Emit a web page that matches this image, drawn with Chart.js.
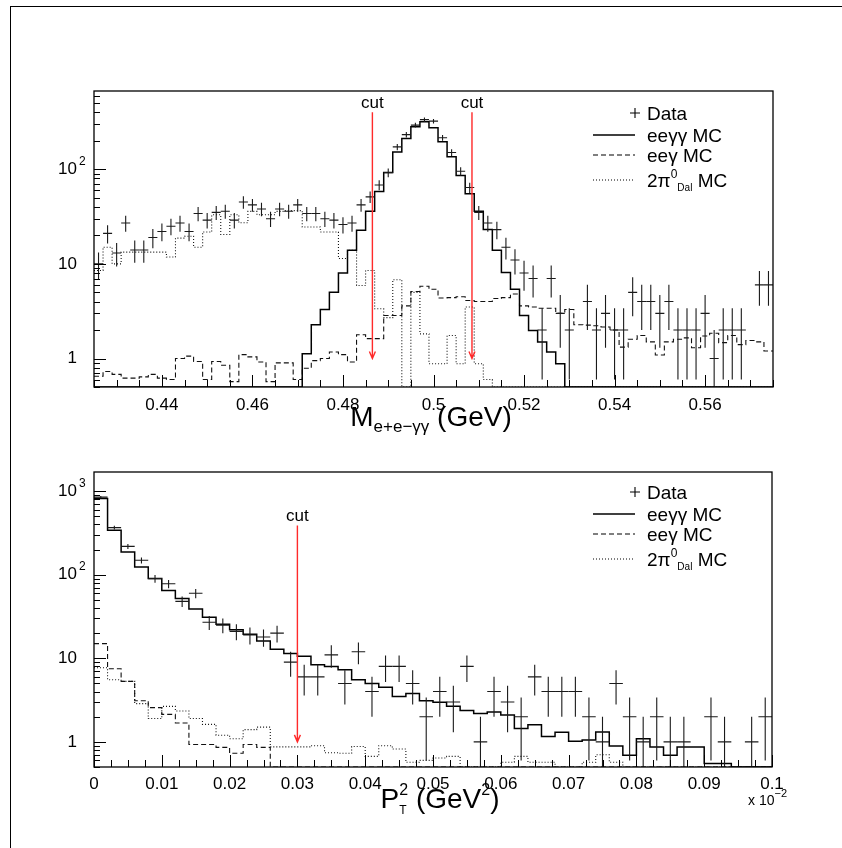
<!DOCTYPE html>
<html lang="en">
<head>
<meta charset="UTF-8">
<title>K_L -> e+e-gamma gamma</title>
<script src="https://cdn.jsdelivr.net/npm/chart.js@4.4.1/dist/chart.umd.min.js"></script>
<style>
  html, body { margin:0; padding:0; background:#fff; }
  body { width:842px; height:848px; position:relative; overflow:hidden; }
  #frame { position:absolute; left:10px; top:6px; width:840px; height:850px;
           border-left:1.5px solid #000; border-top:1.5px solid #000; }
  canvas { position:absolute; left:0; }
  #massChart { top:0; }
  #ptChart { top:440px; }
</style>
</head>
<body>
<div id="frame"></div>
<canvas id="massChart" width="842" height="440"></canvas>
<canvas id="ptChart" width="842" height="408"></canvas>
<script>
// ---- top panel: M(e+e-gg), 2 MeV bins from 0.425 to 0.575 GeV
const massRange = [0.425, 0.575];
const massBin = 0.002;
const massYRange = [0.5, 670];
const massData = [10,21,13,27,14,14,19,22,25,27, 22,34,29,35,36,29,45,42,38,30,
  38,36,42,34,34,30,29,26,27,42, 51,68,92,172,232,292,334,322,215,150,
  95,64,35,27,23,15,11,8,7,2, 7,3,2,0,4,2,3,2,2,5,
  4,4,3,4,2,2,2,3,1,2, 2,2,0,6,6];
const massDataErr = [3.2,4.6,3.6,5.2,3.7,3.7,4.4,4.7,5.0,5.2, 4.7,5.8,5.4,5.9,6.0,5.4,6.7,6.5,6.2,5.5,
  6.2,6.0,6.5,5.8,5.8,5.5,5.4,5.1,5.2,6.5, 7.1,8.2,9.6,13.1,15.2,17.1,18.3,17.9,14.7,12.2,
  9.7,8.0,5.9,5.2,4.8,3.9,3.3,2.8,2.6,1.4, 2.6,1.7,1.4,0,2.0,1.4,1.7,1.4,1.4,2.2,
  2.0,2.0,1.7,2.0,1.4,1.4,1.4,1.7,1.0,1.4, 1.4,1.4,0,2.4,2.4];
const massEeggMC = [0,0,0,0,0,0,0,0,0,0, 0,0,0,0,0,0,0,0,0,0,
  0,0,0,1.12,2.27,3.3,5.0,8.0,13.9,22.6, 36,58,92,152,211,280,317,274,195,135,
  86,55,36,23,13.9,8.1,5.4,2.85,1.98,1.49, 1.17,0.88,0,0,0,0,0,0,0,0,
  0,0,0,0,0,0,0,0,0,0, 0,0,0,0,0];
const massEegMC = [0.65,0.73,0.68,0.62,0.62,0.64,0.68,0.62,0.6,1.0, 1.06,0.93,0.6,0.93,0.85,0.57,1.1,1.04,0.92,0.57,
  0.9,0.9,0.6,0.79,0.95,1.0,1.17,1.1,0.92,1.78, 1.62,1.62,2.85,2.85,3.6,5.1,5.8,5.4,4.35,4.4,
  4.5,4.1,4.0,4.0,4.3,4.4,4.8,3.6,3.5,3.4, 3.4,3.0,3.3,2.27,2.25,2.22,2.15,2.0,1.32,1.6,
  1.75,1.5,1.09,1.5,1.6,1.65,1.3,1.73,1.85,1.47, 1.75,1.4,1.55,1.5,1.2];
const massDalitzMC = [8.5,15,10,13.3,13.3,13.3,13.3,13.3,11.8,18.7, 19.6,15,21.7,33,20.4,33,27.2,35.8,33,33,
  35.8,36.5,36.5,24.5,24.5,21.7,21.7,11.4,13.9,5.9, 8.5,3.35,2.7,6.8,0,5.0,1.82,0.88,0.88,1.75,
  0.88,3.5,0.88,0.6,0,0,0,0,0,0, 0,0,0,0,0,0,0,0,0,0,
  0,0,0,0,0,0,0,0,0,0, 0,0,0,0,0];
const massTickLabels = [0.44, 0.46, 0.48, 0.5, 0.52, 0.54, 0.56];
const massCuts = [0.4865, 0.5085];

// ---- bottom panel: PT^2 in units of 1e-2 GeV^2
const ptRange = [0, 0.1];
const ptBin = 0.002;
const ptYRange = [0.5, 1700];
const ptData = [850,367,219,149,90,78,48,60,27,25, 21,19,18,20,9,6,6,11,5,12,
  4,8,8,5,2,4,3,8,1,4, 3,2,6,4,4,4,2,1,5,2, 1,2,1,1,0,2,1,0,1,2];
const ptDataErr = [29,19,14.8,12.2,9.5,8.8,6.9,7.7,5.2,5.0, 4.6,4.4,4.2,4.5,3.0,2.4,2.4,3.3,2.2,3.5,
  2.0,2.8,2.8,2.2,1.4,2.0,1.7,2.8,1.0,2.0, 1.7,1.4,2.4,2.0,2.0,2.0,1.4,1.0,2.2,1.4,
  1.0,1.4,1.0,1.0,0,1.4,1.0,0,1.0,1.4];
const ptEeggMC = [817,341,188,124,90,65,52,39,31,25.5, 22,19.4,16.1,12.8,11.4,10.6,8.4,8.0,7.3,5.55,
  5.0,4.5,3.5,3.8,3.1,2.97,2.66,2.38,2.18,2.28, 2.1,1.44,1.6,1.16,1.3,1.02,1.05,1.31,0.89,0.69,
  1.09,0.87,0.69,0.87,0.87,0.55,0.55,0,0,0];
const ptEegMC = [15,7.5,5.3,3.1,2.57,2.13,1.68,0.93,0.93,0.86, 0.73,0.93,0.86,0,0,0,0,0,0,0,
  0,0,0,0,0,0,0,0,0,0, 0,0,0,0,0,0,0,0,0,0, 0,0,0,0,0,0,0,0,0,0];
const ptDalitzMC = [7.7,5.55,5.3,2.87,1.9,2.66,2.34,1.9,1.62,1.2, 1.09,1.4,1.5,0.87,0.87,0.87,0.9,0.74,0.73,0.88,
  0.67,0.9,0.82,0.57,0.6,0.64,0.67,0,0,0, 0.57,0.67,0.57,0.57,0,0,0.57,0.7,0.57,0,
  0,0,0,0,0,0,0,0,0,0];
const ptTickLabels = [0, 0.01, 0.02, 0.03, 0.04, 0.05, 0.06, 0.07, 0.08, 0.09, 0.1];
const ptCuts = [0.03];

const FONT = '"Liberation Sans", Arial, Helvetica, sans-serif';

// histogram outline: edge, bin centres, edge -> drawn with stepped 'middle'
function histSeries(lo, bw, values, floor) {
  const pts = [{ x: lo, y: values[0] > 0 ? values[0] : floor }];
  values.forEach((v, i) => pts.push({ x: lo + (i + 0.5) * bw, y: v > 0 ? v : floor }));
  const last = values[values.length - 1];
  pts.push({ x: lo + values.length * bw, y: last > 0 ? last : floor });
  return pts;
}

function drawRich(ctx, parts, x, y, align) {
  let w = 0;
  for (const p of parts) { ctx.font = p.s + 'px ' + FONT; w += p.stack ? 0 : ctx.measureText(p.t).width; }
  let cx = align === 'center' ? x - w / 2 : (align === 'right' ? x - w : x);
  ctx.textAlign = 'left';
  ctx.textBaseline = 'alphabetic';
  for (const p of parts) {
    ctx.font = p.s + 'px ' + FONT;
    ctx.fillText(p.t, cx, y + (p.dy || 0));
    if (!p.stack) cx += ctx.measureText(p.t).width;
  }
}

function rootPlugin(cfg) {
  return {
    id: 'rootStyle',
    afterDatasetsDraw(chart) {
      const { ctx, chartArea: a } = chart;
      const xs = chart.scales.x, ys = chart.scales.y;
      const data = chart.data.datasets[0].data;

      ctx.save();
      ctx.beginPath();
      ctx.rect(a.left, a.top, a.right - a.left, a.bottom - a.top);
      ctx.clip();
      // data points with error bars
      ctx.strokeStyle = '#1a1a1a';
      ctx.lineWidth = 1.1;
      data.forEach((p, i) => {
        if (!(p.y > 0)) return;
        const e = cfg.err[i];
        const xc = xs.getPixelForValue(p.x);
        const yc = ys.getPixelForValue(p.y);
        const y1 = ys.getPixelForValue(p.y + e);
        const y2 = p.y - e > 0 ? ys.getPixelForValue(p.y - e) : a.bottom;
        ctx.beginPath();
        ctx.moveTo(xs.getPixelForValue(p.x - cfg.bw / 2), yc);
        ctx.lineTo(xs.getPixelForValue(p.x + cfg.bw / 2), yc);
        ctx.moveTo(xc, y1);
        ctx.lineTo(xc, y2);
        ctx.stroke();
      });
      ctx.restore();

      // cut arrows
      ctx.save();
      ctx.strokeStyle = '#ff2a2a';
      ctx.fillStyle = '#000';
      ctx.lineWidth = 1.4;
      cfg.cuts.forEach(c => {
        const xp = xs.getPixelForValue(c);
        const yt = ys.getPixelForValue(cfg.cutTop);
        const yb = ys.getPixelForValue(1);
        ctx.beginPath();
        ctx.moveTo(xp, yt); ctx.lineTo(xp, yb);
        ctx.moveTo(xp - 3, yb - 7); ctx.lineTo(xp, yb); ctx.lineTo(xp + 3, yb - 7);
        ctx.stroke();
        ctx.font = '17px ' + FONT;
        ctx.textAlign = 'center';
        ctx.textBaseline = 'alphabetic';
        ctx.fillText('cut', xp, yt - 4);
      });
      ctx.restore();

      // frame
      ctx.save();
      ctx.strokeStyle = '#000';
      ctx.lineWidth = 1.3;
      ctx.strokeRect(a.left, a.top, a.right - a.left, a.bottom - a.top);
      ctx.lineWidth = 1;
      ctx.beginPath();
      // log y ticks, inward
      for (let d = 0.1; d <= 1e4; d *= 10) {
        for (let m = 1; m <= 9; m++) {
          const v = m * d;
          if (v < ys.min || v > ys.max) continue;
          const yp = Math.round(ys.getPixelForValue(v)) + 0.5;
          ctx.moveTo(a.left, yp);
          ctx.lineTo(a.left + (m === 1 ? 12 : 6), yp);
        }
      }
      // x ticks, inward
      const nMinor = Math.round((xs.max - xs.min) / cfg.xMinor);
      for (let k = 0; k <= nMinor; k++) {
        const v = xs.min + k * cfg.xMinor;
        const major = cfg.xLabels.some(t => Math.abs(t - v) < cfg.xMinor / 10);
        const xp = Math.round(xs.getPixelForValue(v)) + 0.5;
        ctx.moveTo(xp, a.bottom);
        ctx.lineTo(xp, a.bottom - (major ? 12 : 7));
      }
      ctx.stroke();

      // tick labels
      ctx.fillStyle = '#000';
      ctx.font = '17px ' + FONT;
      ctx.textAlign = 'center';
      ctx.textBaseline = 'middle';
      cfg.xLabels.forEach(t => {
        ctx.fillText(String(t), xs.getPixelForValue(t), a.bottom + cfg.xLabelGap);
      });
      cfg.yLabels.forEach(([v, base, sup]) => {
        const yp = ys.getPixelForValue(v);
        ctx.font = '17px ' + FONT;
        ctx.textAlign = 'right';
        ctx.textBaseline = 'middle';
        ctx.fillText(base, 77, yp);
        if (sup) {
          ctx.font = '12px ' + FONT;
          ctx.textAlign = 'left';
          ctx.fillText(sup, 79, yp - 8);
        }
      });

      // axis title
      ctx.fillStyle = '#000';
      drawRich(ctx, cfg.title, cfg.titlePos[0], cfg.titlePos[1], 'center');
      if (cfg.extra) drawRich(ctx, cfg.extra.parts, cfg.extra.x, cfg.extra.y, 'left');

      // legend
      const L = cfg.legend;
      ctx.strokeStyle = '#000';
      ctx.lineWidth = 1.1;
      ctx.beginPath();
      ctx.moveTo(L.cross - 5, L.rows[0]); ctx.lineTo(L.cross + 5, L.rows[0]);
      ctx.moveTo(L.cross, L.rows[0] - 5); ctx.lineTo(L.cross, L.rows[0] + 5);
      ctx.stroke();
      [[], [5, 3], [1, 2]].forEach((dash, k) => {
        ctx.setLineDash(dash);
        ctx.lineWidth = k === 0 ? 1.5 : 1.1;
        ctx.beginPath();
        ctx.moveTo(L.x0, L.rows[k + 1]); ctx.lineTo(L.x1, L.rows[k + 1]);
        ctx.stroke();
      });
      ctx.setLineDash([]);
      const fs = 19, off = 7;
      drawRich(ctx, [{ t: 'Data', s: fs }], L.tx, L.rows[0] + off, 'left');
      drawRich(ctx, [{ t: 'ee\u03b3\u03b3 MC', s: fs }], L.tx, L.rows[1] + off, 'left');
      drawRich(ctx, [{ t: 'ee\u03b3 MC', s: fs }], L.tx, L.rows[2] + off, 'left');
      drawRich(ctx, [{ t: '2\u03c0', s: fs }, { t: '0', s: 12, dy: -9 }, { t: 'Dal', s: 10, dy: 4 },
        { t: ' MC', s: fs }], L.tx, L.rows[3] + off, 'left');
      ctx.restore();
    }
  };
}

function makeChart(id, p) {
  const floor = p.yRange[0];
  return new Chart(document.getElementById(id), {
    type: 'line',
    data: {
      datasets: [
        { label: 'Data', data: p.data.map((v, i) => ({ x: p.range[0] + (i + 0.5) * p.bw, y: v })),
          showLine: false, pointRadius: 0 },
        { label: 'ee\u03b3\u03b3 MC', data: histSeries(p.range[0], p.bw, p.eegg, floor),
          stepped: 'middle', borderColor: '#000', borderWidth: 1.5, pointRadius: 0, fill: false },
        { label: 'ee\u03b3 MC', data: histSeries(p.range[0], p.bw, p.eeg, floor),
          stepped: 'middle', borderColor: '#111', borderWidth: 1.1, borderDash: [5, 3], pointRadius: 0, fill: false },
        { label: '2\u03c0\u2070 Dal MC', data: histSeries(p.range[0], p.bw, p.dal, floor),
          stepped: 'middle', borderColor: '#111', borderWidth: 1.1, borderDash: [1, 2], pointRadius: 0, fill: false }
      ]
    },
    options: {
      responsive: false,
      animation: false,
      devicePixelRatio: 1,
      layout: { padding: p.padding },
      plugins: { legend: { display: false }, tooltip: { enabled: false } },
      scales: {
        x: { type: 'linear', min: p.range[0], max: p.range[1], display: false },
        y: { type: 'logarithmic', min: p.yRange[0], max: p.yRange[1], display: false }
      }
    },
    plugins: [rootPlugin(p.frame)]
  });
}

makeChart('massChart', {
  range: massRange, bw: massBin, yRange: massYRange,
  data: massData, eegg: massEeggMC, eeg: massEegMC, dal: massDalitzMC,
  padding: { left: 94, right: 69, top: 91, bottom: 53 },
  frame: {
    err: massDataErr, bw: massBin, cuts: massCuts, cutTop: 400,
    xLabels: massTickLabels, xMinor: 0.005, xLabelGap: 18,
    yLabels: [[1, '1'], [10, '10'], [100, '10', '2']],
    title: [{ t: 'M', s: 28 }, { t: 'e+e\u2212\u03b3\u03b3', s: 17, dy: 6 }, { t: ' (GeV)', s: 28 }],
    titlePos: [431, 426],
    legend: { x0: 593, x1: 635, cross: 635, tx: 647, rows: [113, 135, 155, 180] }
  }
});

makeChart('ptChart', {
  range: ptRange, bw: ptBin, yRange: ptYRange,
  data: ptData, eegg: ptEeggMC, eeg: ptEegMC, dal: ptDalitzMC,
  padding: { left: 94, right: 70, top: 32, bottom: 81 },
  frame: {
    err: ptDataErr, bw: ptBin, cuts: ptCuts, cutTop: 390,
    xLabels: ptTickLabels, xMinor: 0.0025, xLabelGap: 17,
    yLabels: [[1, '1'], [10, '10'], [100, '10', '2'], [1000, '10', '3']],
    title: [{ t: 'P', s: 28 }, { t: 'T', s: 12, dy: 6, stack: true }, { t: '2', s: 16, dy: -13 },
      { t: ' (GeV', s: 28 }, { t: '2', s: 16, dy: -13 }, { t: ')', s: 28 }],
    titlePos: [440, 368],
    extra: { x: 748, y: 365, parts: [{ t: 'x 10', s: 14 }, { t: '\u22122', s: 11, dy: -8 }] },
    legend: { x0: 593, x1: 635, cross: 635, tx: 647, rows: [52, 74, 94, 119] }
  }
});
</script>
</body>
</html>
